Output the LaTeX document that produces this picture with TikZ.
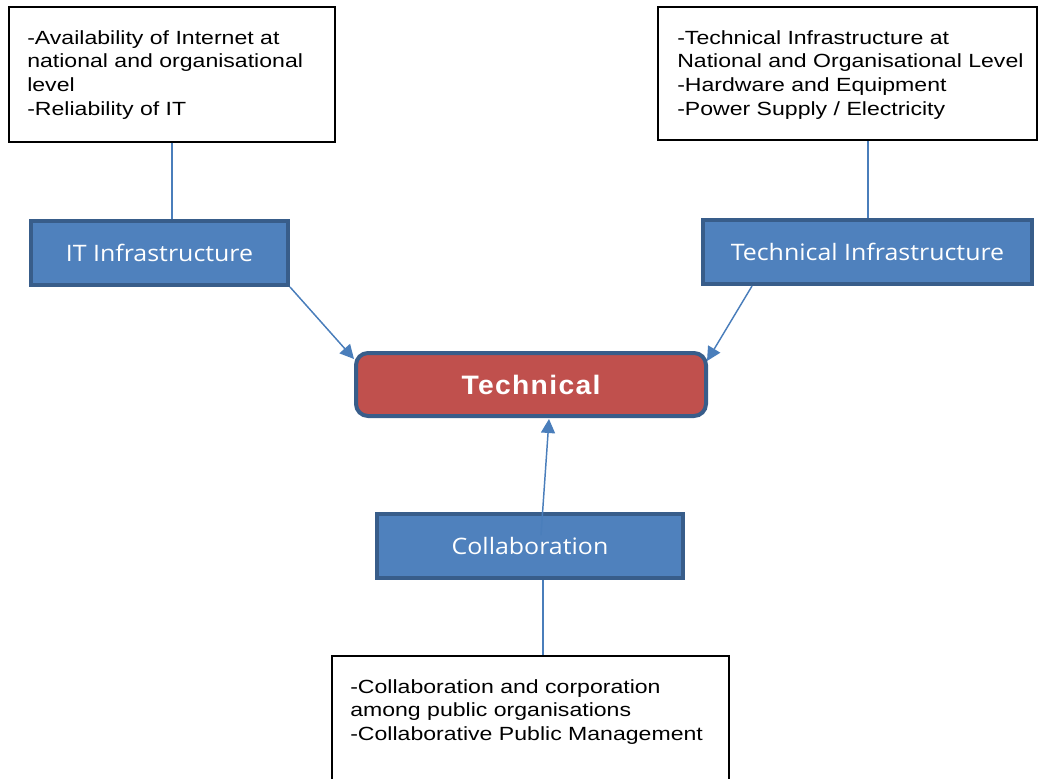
\documentclass[tikz,border=0pt]{standalone}
\usepackage{fontspec}
\setmainfont{Liberation Sans}
\newfontfamily\notefont[FakeStretch=1.21]{Liberation Sans}
\newfontfamily\labelfont[FakeStretch=1.1]{Open Sans}
\newfontfamily\titlefont[FakeStretch=1.06,LetterSpace=5]{Liberation Sans Bold}
\usetikzlibrary{arrows.meta,calc}
\definecolor{bluefill}{HTML}{4F81BD}
\definecolor{blueborder}{HTML}{385D8A}
\definecolor{redfill}{HTML}{C0504D}
\definecolor{linkblue}{HTML}{4A7EBB}
\tikzset{
  notebox/.style={draw=black, line width=1pt, fill=white, inner sep=0pt},
  notetext/.style={anchor=north west, inner sep=0pt, align=left,
    font=\notefont\fontsize{14.3pt}{17.8pt}\selectfont},
  bluebox/.style={draw=blueborder, fill=bluefill, line width=3pt, inner sep=0pt,
    text=white, font=\labelfont\fontsize{17pt}{20pt}\selectfont},
  redbox/.style={draw=blueborder, fill=redfill, line width=3pt, inner sep=0pt,
    rounded corners=9pt, text=white, font=\titlefont\fontsize{20pt}{23pt}\selectfont},
  link/.style={draw=linkblue, line width=1.1pt},
  arrowlink/.style={link, -{Triangle[length=10.5pt,width=10.5pt]}}
}
\begin{document}
\begin{tikzpicture}[x=0.75pt,y=-0.75pt]
\useasboundingbox (0,0) rectangle (1042,778);
\clip (0,0) rectangle (1042,778);
% note boxes
\node[notebox, minimum width=244.5pt, minimum height=101.25pt] (tl) at (172,74.5) {};
\node[notetext] (tltext) at (27,30) {-Availability of Internet at\\national and organisational\\level\\-Reliability of IT};
\node[notebox, minimum width=284.25pt, minimum height=99.75pt] (tr) at (847.5,73.5) {};
\node[notetext] (trtext) at (677,30) {-Technical Infrastructure at\\National and Organisational Level\\-Hardware and Equipment\\-Power Supply / Electricity};
\node[notebox, minimum width=297.75pt, minimum height=105pt] (bot) at (530.5,726) {};
\node[notetext] (bottext) at (350,679) {-Collaboration and corporation\\among public organisations\\-Collaborative Public Management};
% main nodes
\node[bluebox, minimum width=192.75pt, minimum height=48pt] (itinf) at (159.5,253) {IT Infrastructure};
\node[bluebox, minimum width=246.75pt, minimum height=48pt] (techinf) at (867.5,252) {Technical Infrastructure};
\node[redbox, minimum width=262.5pt, minimum height=47.25pt] (tech) at (531,384.5) {Technical};
\node[bluebox, minimum width=229.5pt, minimum height=48pt] (collab) at (530,546) {Collaboration};
% connectors
\draw[link] (tl.south) -- (tl.south |- itinf.north);
\draw[link] ([xshift=0.5pt]techinf.north) -- ([xshift=0.5pt]techinf.north |- tr.south);
\draw[link] ([xshift=9.75pt]collab.south) -- ([xshift=9.75pt]collab.south |- bot.north);
\coordinate (itstart) at (itinf.south east);
\coordinate (ttstart) at ($(techinf.south west)+(51,0)$);
\coordinate (colstart) at ($(collab.center)+(11,-11)$);
\draw[arrowlink] (itstart) -- ($(tech.north west)+(0,8)$);
\draw[arrowlink] (ttstart) -- ($(tech.north east)+(-1,10)$);
\draw[arrowlink] (colstart) -- ($(tech.south)+(18,1)$);
\end{tikzpicture}
\end{document}
